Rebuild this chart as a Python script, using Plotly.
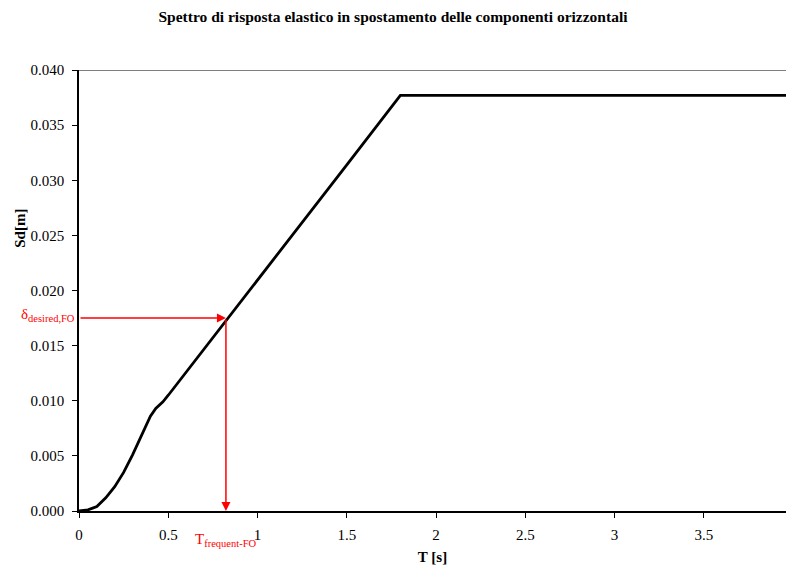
import plotly.graph_objects as go

# Elastic displacement response spectrum (horizontal components)
period_s = [0.0, 0.05, 0.10, 0.15, 0.20, 0.25, 0.30, 0.35, 0.40, 0.43, 0.47, 0.50,
            0.75, 1.00, 1.25, 1.50, 1.80, 2.50, 3.00, 3.50, 4.00]
sd_m = [0.0, 0.0001, 0.0004, 0.0012, 0.0022, 0.0035, 0.0051, 0.0069, 0.0086, 0.0093,
        0.0099, 0.0105, 0.0157, 0.0209, 0.0262, 0.0314, 0.0377, 0.0377, 0.0377, 0.0377, 0.0377]

# Frequent operational target point
t_frequent = 0.823
delta_desired = 0.0175

x_ticks = [0, 0.5, 1, 1.5, 2, 2.5, 3, 3.5]
x_tick_text = ["0", "0.5", "1", "1.5", "2", "2.5", "3", "3.5"]
y_ticks = [0.000, 0.005, 0.010, 0.015, 0.020, 0.025, 0.030, 0.035, 0.040]
y_tick_text = [f"{v:.3f}" for v in y_ticks]

serif = "Times New Roman, Liberation Serif, serif"
red = "#ff0000"

fig = go.Figure()
fig.add_trace(go.Scatter(
    x=period_s, y=sd_m, mode="lines",
    line=dict(color="black", width=2.8),
    hoverinfo="skip", showlegend=False,
))

# Arrows: from the y-axis to the curve, then down to the T axis
fig.add_annotation(x=t_frequent, y=delta_desired, ax=0, ay=delta_desired,
                   xref="x", yref="y", axref="x", ayref="y", text="",
                   showarrow=True, arrowhead=2, arrowsize=1.2, arrowwidth=1.5,
                   arrowcolor=red)
fig.add_annotation(x=t_frequent, y=0, ax=t_frequent, ay=delta_desired,
                   xref="x", yref="y", axref="x", ayref="y", text="",
                   showarrow=True, arrowhead=2, arrowsize=1.2, arrowwidth=1.5,
                   arrowcolor=red)

fig.add_annotation(x=0, y=delta_desired, xref="paper", yref="y",
                   text="δ<sub>desired,FO</sub>", showarrow=False,
                   xanchor="right", yanchor="middle", xshift=-2, yshift=3,
                   font=dict(family=serif, size=15, color=red))
fig.add_annotation(x=t_frequent, y=0, xref="x", yref="y",
                   text="T<sub>frequent-FO</sub>", showarrow=False,
                   xanchor="center", yanchor="top", yshift=-18,
                   font=dict(family=serif, size=15, color=red))

# Vertical axis title, set a little above the middle of the axis
fig.add_annotation(x=0, y=0.0256, xref="paper", yref="y",
                   text="<b>Sd[m]</b>", showarrow=False, textangle=-90,
                   xanchor="center", yanchor="middle", xshift=-59,
                   font=dict(family=serif, size=15, color="black"))

# Top border of the plot area
fig.add_shape(type="line", xref="paper", yref="y", x0=0, x1=1, y0=0.04, y1=0.04,
              line=dict(color="#555555", width=1.5))

fig.update_layout(
    width=786, height=568,
    margin=dict(l=79, r=0, t=70, b=57),
    paper_bgcolor="white", plot_bgcolor="white",
    title=dict(text="<b>Spettro di risposta elastico in spostamento delle componenti orizzontali</b>",
               x=0.5, xanchor="center", y=0.97, yanchor="middle",
               font=dict(family=serif, size=15.5, color="black")),
    font=dict(family=serif, size=15, color="black"),
    xaxis=dict(range=[0, 3.96], tickvals=x_ticks, ticktext=x_tick_text,
               showgrid=False, zeroline=False, showline=True, linecolor="black",
               linewidth=1.5, ticks="outside", ticklen=5, tickcolor="black",
               tickfont=dict(family=serif, size=15), ticklabelstandoff=4,
               title=dict(text="<b>T [s]</b>", standoff=10,
                          font=dict(family=serif, size=15))),
    yaxis=dict(range=[0, 0.04], tickvals=y_ticks, ticktext=y_tick_text,
               showgrid=False, zeroline=False, showline=True, linecolor="black",
               linewidth=1.5, ticks="outside", ticklen=5, tickcolor="black",
               tickfont=dict(family=serif, size=15), ticklabelstandoff=5),
)

fig.write_html("out.html")
